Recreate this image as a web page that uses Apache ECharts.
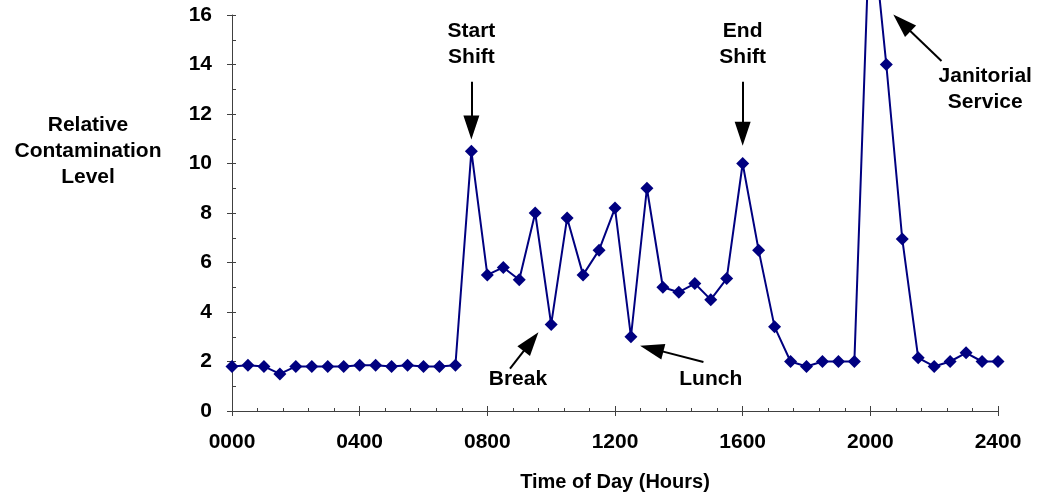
<!DOCTYPE html>
<html>
<head>
<meta charset="utf-8">
<script src="https://cdn.jsdelivr.net/npm/echarts@6/dist/echarts.min.js"></script>
<style>
  html, body { margin: 0; background: #fff; }
  #chart { width: 1040px; height: 497px; }
</style>
</head>
<body>
<div id="chart"></div>
<script>
// time of day in hours, one reading every 30 minutes
const hours = [
  0, 0.5, 1, 1.5, 2, 2.5, 3, 3.5, 4, 4.5, 5, 5.5, 6, 6.5, 7, 7.5,
  8, 8.5, 9, 9.5, 10, 10.5, 11, 11.5, 12, 12.5, 13, 13.5, 14, 14.5, 15, 15.5,
  16, 16.5, 17, 17.5, 18, 18.5, 19, 19.5, 20, 20.5, 21, 21.5, 22, 22.5, 23, 23.5, 24
];
const levels = [
  1.8, 1.85, 1.8, 1.5, 1.8, 1.8, 1.8, 1.8, 1.85, 1.85, 1.8, 1.85, 1.8, 1.8, 1.85, 10.5,
  5.5, 5.8, 5.3, 8.0, 3.5, 7.8, 5.5, 6.5, 8.2, 3.0, 9.0, 5.0, 4.8, 5.15, 4.5, 5.35,
  10.0, 6.5, 3.4, 2.0, 1.8, 2.0, 2.0, 2.0, 20.4, 14.0, 6.95, 2.15, 1.8, 2.0, 2.35, 2.0, 2.0
];
const xTickLabels = ['0000', '0400', '0800', '1200', '1600', '2000', '2400'];

// callouts, in data coordinates
const notes = [
  { text: 'Start\nShift', at: [7.5, 14.8] },
  { text: 'End\nShift', at: [16, 14.8] },
  { text: 'Break', at: [8.96, 1.27] },
  { text: 'Lunch', at: [15.0, 1.27] },
  { text: 'Janitorial\nService', at: [23.6, 13.0] },
];
const arrows = [
  { from: [7.5, 13.3], to: [7.5, 11.45] },
  { from: [16, 13.3], to: [16, 11.2] },
  { from: [8.71, 1.71], to: [9.37, 2.8] },
  { from: [14.77, 1.98], to: [13.15, 2.52] },
  { from: [22.23, 14.14], to: [20.99, 15.68] },
];

const FONT = '"Liberation Sans", Arial, sans-serif';
const navy = '#000080';
const axisColor = '#404040';

const chart = echarts.init(document.getElementById('chart'));

const labelStyle = { fontFamily: FONT, fontWeight: 'bold', fontSize: 21, color: '#000' };

chart.setOption({
  animation: false,
  grid: { left: 232, right: 42, top: 15, bottom: 85 },
  xAxis: [
    {
      type: 'value',
      min: 0,
      max: 24,
      interval: 4,
      position: 'bottom',
      name: 'Time of Day (Hours)',
      nameLocation: 'middle',
      nameGap: 61,
      nameTextStyle: { ...labelStyle, fontSize: 20 },
      axisLine: { lineStyle: { color: axisColor, width: 1 } },
      axisTick: { show: true, inside: false, length: 5, lineStyle: { color: axisColor } },
      minorTick: { show: false },
      splitLine: { show: false },
      axisLabel: {
        margin: 21,
        ...labelStyle,
        formatter: (v) => xTickLabels[Math.round(v / 4)],
      },
    },
    {
      type: 'value',
      min: 0,
      max: 24,
      interval: 4,
      position: 'bottom',
      axisLine: { show: false },
      axisTick: { show: true, inside: true, length: 5, lineStyle: { color: axisColor } },
      minorTick: { show: true, splitNumber: 5, length: 3, lineStyle: { color: axisColor } },
      splitLine: { show: false },
      axisLabel: { show: false },
    },
  ],
  yAxis: [
    {
      type: 'value',
      min: 0,
      max: 16,
      interval: 2,
      position: 'left',
      axisLine: { show: true, lineStyle: { color: axisColor, width: 1 } },
      axisTick: { show: true, inside: false, length: 5, lineStyle: { color: axisColor } },
      minorTick: { show: false },
      splitLine: { show: false },
      axisLabel: { margin: 20, ...labelStyle, padding: [6, 0, 0, 0] },
    },
    {
      type: 'value',
      min: 0,
      max: 16,
      interval: 2,
      position: 'left',
      axisLine: { show: false },
      axisTick: { show: true, inside: true, length: 4, lineStyle: { color: axisColor } },
      minorTick: { show: true, splitNumber: 2, length: 4, lineStyle: { color: axisColor } },
      splitLine: { show: false },
      axisLabel: { show: false },
    },
  ],
  series: [
    {
      type: 'line',
      data: hours.map((h, i) => [h, levels[i]]),
      clip: false,
      symbol: 'diamond',
      symbolSize: 13,
      itemStyle: { color: navy },
      lineStyle: { color: navy, width: 2 },
      markLine: {
        silent: true,
        symbol: ['none', 'triangle'],
        symbolSize: [16, 24],
        label: { show: false },
        lineStyle: { color: '#000', width: 2, type: 'solid' },
        data: arrows.map((a) => [{ coord: a.from }, { coord: a.to }]),
      },
    },
  ],
});

chart.setOption({
  graphic: [
    {
      type: 'text',
      x: 88,
      y: 151,
      style: {
        text: 'Relative\nContamination\nLevel',
        font: `bold 21px ${FONT}`,
        lineHeight: 26,
        align: 'center',
        verticalAlign: 'middle',
        fill: '#000',
      },
    },
    ...notes.map((n) => {
      const [x, y] = chart.convertToPixel({ gridIndex: 0 }, n.at);
      return {
        type: 'text',
        x,
        y,
        style: {
          text: n.text,
          font: `bold 21px ${FONT}`,
          lineHeight: 26,
          align: 'center',
          verticalAlign: 'middle',
          fill: '#000',
        },
      };
    }),
  ],
});
</script>
</body>
</html>
